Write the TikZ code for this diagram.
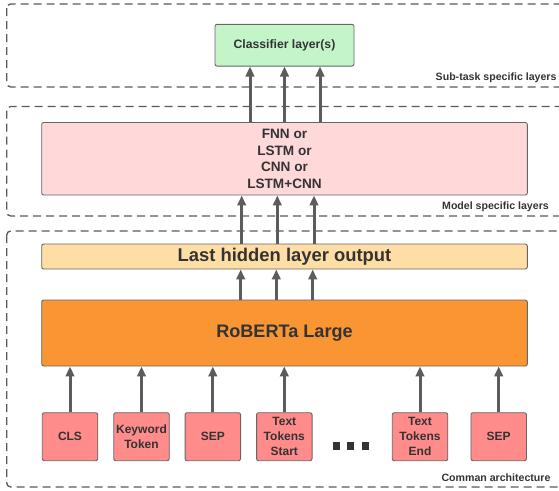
\documentclass[tikz,border=0pt]{standalone}
\usepackage{fontspec}
\setmainfont{Liberation Sans}
\usetikzlibrary{arrows.meta}
\definecolor{txt}{HTML}{333333}
\definecolor{edge}{HTML}{666666}
\definecolor{arrc}{HTML}{5C5C5C}
\definecolor{dashc}{HTML}{5A5A5A}
\definecolor{greenf}{HTML}{C3F5C8}
\definecolor{pinkf}{HTML}{FFD9DA}
\definecolor{yellowf}{HTML}{FFDEA6}
\definecolor{orangef}{HTML}{F99633}
\definecolor{tokf}{HTML}{FF8B8B}
\tikzset{
  layerbox/.style={draw=edge, line width=0.9pt, rounded corners=2pt, inner sep=0pt, text=txt, font=\bfseries, align=center},
  tokbox/.style={layerbox, fill=tokf, minimum width=55.5pt, minimum height=48pt, font=\bfseries\fontsize{12}{15}\selectfont},
  groupbox/.style={draw=dashc, line width=1.3pt, dash pattern=on 8pt off 5pt, rounded corners=4pt},
  grouplabel/.style={anchor=east, inner sep=0pt, text=txt, font=\bfseries\fontsize{10.6}{12}\selectfont},
  arr/.style={draw=arrc, line width=3pt, -{Triangle[length=10pt,width=8.5pt]}},
  dotsq/.style={fill=txt, minimum size=7.3pt, inner sep=0pt}
}
\begin{document}
\begin{tikzpicture}[x=1pt,y=-1pt]
\useasboundingbox (0,0) rectangle (559,490);
\clip (0,0) rectangle (559,490);
% group boxes
\draw[groupbox] (6.7,4) rectangle (570,87);
\draw[groupbox] (6.7,106.5) rectangle (570,216);
\draw[groupbox] (6.7,231) rectangle (570,487);
\node[grouplabel] (lsub) at (556.7,77.5) {Sub-task specific layers};
\node[grouplabel] (lmod) at (549,206.7) {Model specific layers};
\node[grouplabel] (lcom) at (550.7,477.3) {Comman architecture};
% layers
\node[layerbox, fill=greenf, minimum width=139pt, minimum height=41.7pt, font=\bfseries\fontsize{12.2}{15}\selectfont] (cls) at (284.5,45.2) {Classifier layer(s)};
\node[layerbox, fill=pinkf, minimum width=485.6pt, minimum height=72.5pt, font=\bfseries\fontsize{13.6}{16.7}\selectfont] (model) at (284.5,158.75) {FNN or\\LSTM or\\CNN or\\LSTM+CNN};
\node[layerbox, fill=yellowf, minimum width=485.6pt, minimum height=25pt, font=\bfseries\fontsize{18.4}{20}\selectfont] (hidden) at (284.5,256.5) {Last hidden layer output};
\node[layerbox, fill=orangef, minimum width=485.6pt, minimum height=66pt, font=\bfseries\fontsize{18.1}{20}\selectfont] (roberta) at (284.5,333) {RoBERTa Large};
% tokens
\node[tokbox] (t1) at (70,436.7) {CLS};
\node[tokbox] (t2) at (141.5,436.7) {Keyword\\Token};
\node[tokbox] (t3) at (212.8,436.7) {SEP};
\node[tokbox] (t4) at (284.3,436.7) {Text\\Tokens\\Start};
\node[tokbox] (t5) at (420,436.7) {Text\\Tokens\\End};
\node[tokbox] (t6) at (498.7,436.7) {SEP};
\node[dotsq] (d1) at (336.4,446) {};
\node[dotsq] (d2) at (350.4,446) {};
\node[dotsq] (d3) at (365.4,446) {};
% arrows tokens -> roberta
\foreach \t in {t1,t2,t3,t4,t5,t6}
  \draw[arr] (\t.north) -- (roberta.south -| \t.north);
% roberta -> hidden
\foreach \s in {-43.8,-8.2,28.2}
  \draw[arr] ([xshift=\s pt]roberta.north) -- ([xshift=\s pt]hidden.south);
% hidden -> model
\foreach \s in {-42.8,-7.2,29.5}
  \draw[arr] ([xshift=\s pt]hidden.north) -- ([xshift=\s pt]model.south);
% model -> classifier
\foreach \s in {-34.5,0,35.5}
  \draw[arr] ([xshift=\s pt]model.north) -- ([xshift=\s pt]cls.south);
\end{tikzpicture}
\end{document}
